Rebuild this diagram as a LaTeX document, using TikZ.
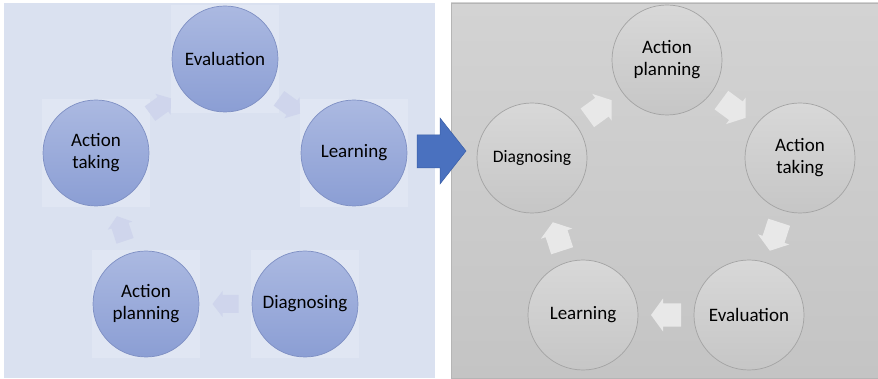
\documentclass[tikz,border=0pt]{standalone}
\usepackage{fontspec}
\setmainfont{Carlito}
\usetikzlibrary{calc}
\definecolor{leftbg}{HTML}{DAE1F0}
\definecolor{leftpatch}{HTML}{E0E6F3}
\definecolor{lctop}{HTML}{ABB9E1}
\definecolor{lcbot}{HTML}{8B9ED4}
\definecolor{lcborder}{HTML}{7E8FC3}
\definecolor{larrow}{HTML}{CFD5EC}
\definecolor{rbgtop}{HTML}{D3D3D3}
\definecolor{rbgbot}{HTML}{C4C4C4}
\definecolor{rctop}{HTML}{D8D8D8}
\definecolor{rcbot}{HTML}{C6C6C6}
\definecolor{rcborder}{HTML}{A3A3A3}
\definecolor{rarrow}{HTML}{E8E8E8}
\definecolor{bigblue}{HTML}{4A71BF}
\definecolor{bigblueborder}{HTML}{3A5EA6}
% #1 style, #2 from node, #3 to node, #4 half length, #5 head length, #6 shaft half width, #7 head half width
\newcommand\cycarrow[7]{%
  \pgfmathanglebetweenpoints{\pgfpointanchor{#2}{center}}{\pgfpointanchor{#3}{center}}%
  \let\cycang\pgfmathresult
  \begin{scope}[shift={($(#2)!0.5!(#3)$)}, rotate=\cycang]
    \fill[#1] (-#4,-#6) -- ({#4-#5},-#6) -- ({#4-#5},-#7) -- (#4,0)
      -- ({#4-#5},#7) -- ({#4-#5},#6) -- (-#4,#6) -- cycle;
  \end{scope}}
\begin{document}
\begin{tikzpicture}[x=1pt,y=-1pt,
  lcirc/.style={circle, minimum size=106pt, inner sep=0pt, draw=lcborder,
    line width=0.7pt, top color=lctop, bottom color=lcbot, align=center,
    text=black, font=\fontsize{19}{22}\selectfont},
  rcirc/.style={circle, minimum size=110pt, inner sep=0pt, draw=rcborder,
    line width=0.7pt, top color=rctop, bottom color=rcbot, align=center,
    text=black, font=\fontsize{19}{22}\selectfont},
  larr/.style={fill=larrow},
  rarr/.style={fill=rarrow},
  bigarr/.style={draw=bigblueborder, fill=bigblue, line width=0.5pt},
  patch/.style={fill=leftpatch, draw=none, minimum size=108pt, inner sep=0pt}
]
\useasboundingbox (0,0) rectangle (878,379);
\fill[white] (0,0) rectangle (878,379);
% panels
\fill[leftbg] (4,3) rectangle (435,378);
\shade[top color=rbgtop, bottom color=rbgbot, draw=rcborder!80, line width=0.5pt]
  (451,3) rectangle (878,378);
% faint patches behind left circles
\foreach \p in {(225,59),(354,153),(96,153),(146,304),(305,304)}
  \node[patch] at \p {};
% left cycle
\node[lcirc] (lev) at (225,59) {Evaluation};
\node[lcirc] (lle) at (354,153) {Learning};
\node[lcirc] (lat) at (96,153) {Action\\taking};
\node[lcirc] (lap) at (146,304) {Action\\planning};
\node[lcirc] (ldi) at (305,304) {Diagnosing};
\cycarrow{larr}{lev}{lle}{13}{10}{9}{13}
\cycarrow{larr}{lat}{lev}{13}{10}{9}{13}
\cycarrow{larr}{lap}{lat}{13}{10}{9}{13}
\cycarrow{larr}{ldi}{lap}{13}{10}{9}{13}
% right cycle
\node[rcirc] (rap) at (667,60) {Action\\planning};
\node[rcirc] (rat) at (800,158) {Action\\taking};
\node[rcirc] (rev) at (749,315) {Evaluation};
\node[rcirc] (rle) at (583,315) {Learning};
\node[rcirc, font=\fontsize{17.5}{21}\selectfont] (rdi) at (532,158) {Diagnosing};
\cycarrow{rarr}{rdi}{rap}{15}{12}{11.5}{16.5}
\cycarrow{rarr}{rap}{rat}{15}{12}{11.5}{16.5}
\cycarrow{rarr}{rat}{rev}{15}{12}{11.5}{16.5}
\cycarrow{rarr}{rev}{rle}{15}{12}{11.5}{16.5}
\cycarrow{rarr}{rle}{rdi}{15}{12}{11.5}{16.5}
% big transition arrow
\draw[bigarr] (417,135) -- (440,135) -- (440,118) -- (466,151) -- (440,184)
  -- (440,168) -- (417,168) -- cycle;
\end{tikzpicture}
\end{document}
